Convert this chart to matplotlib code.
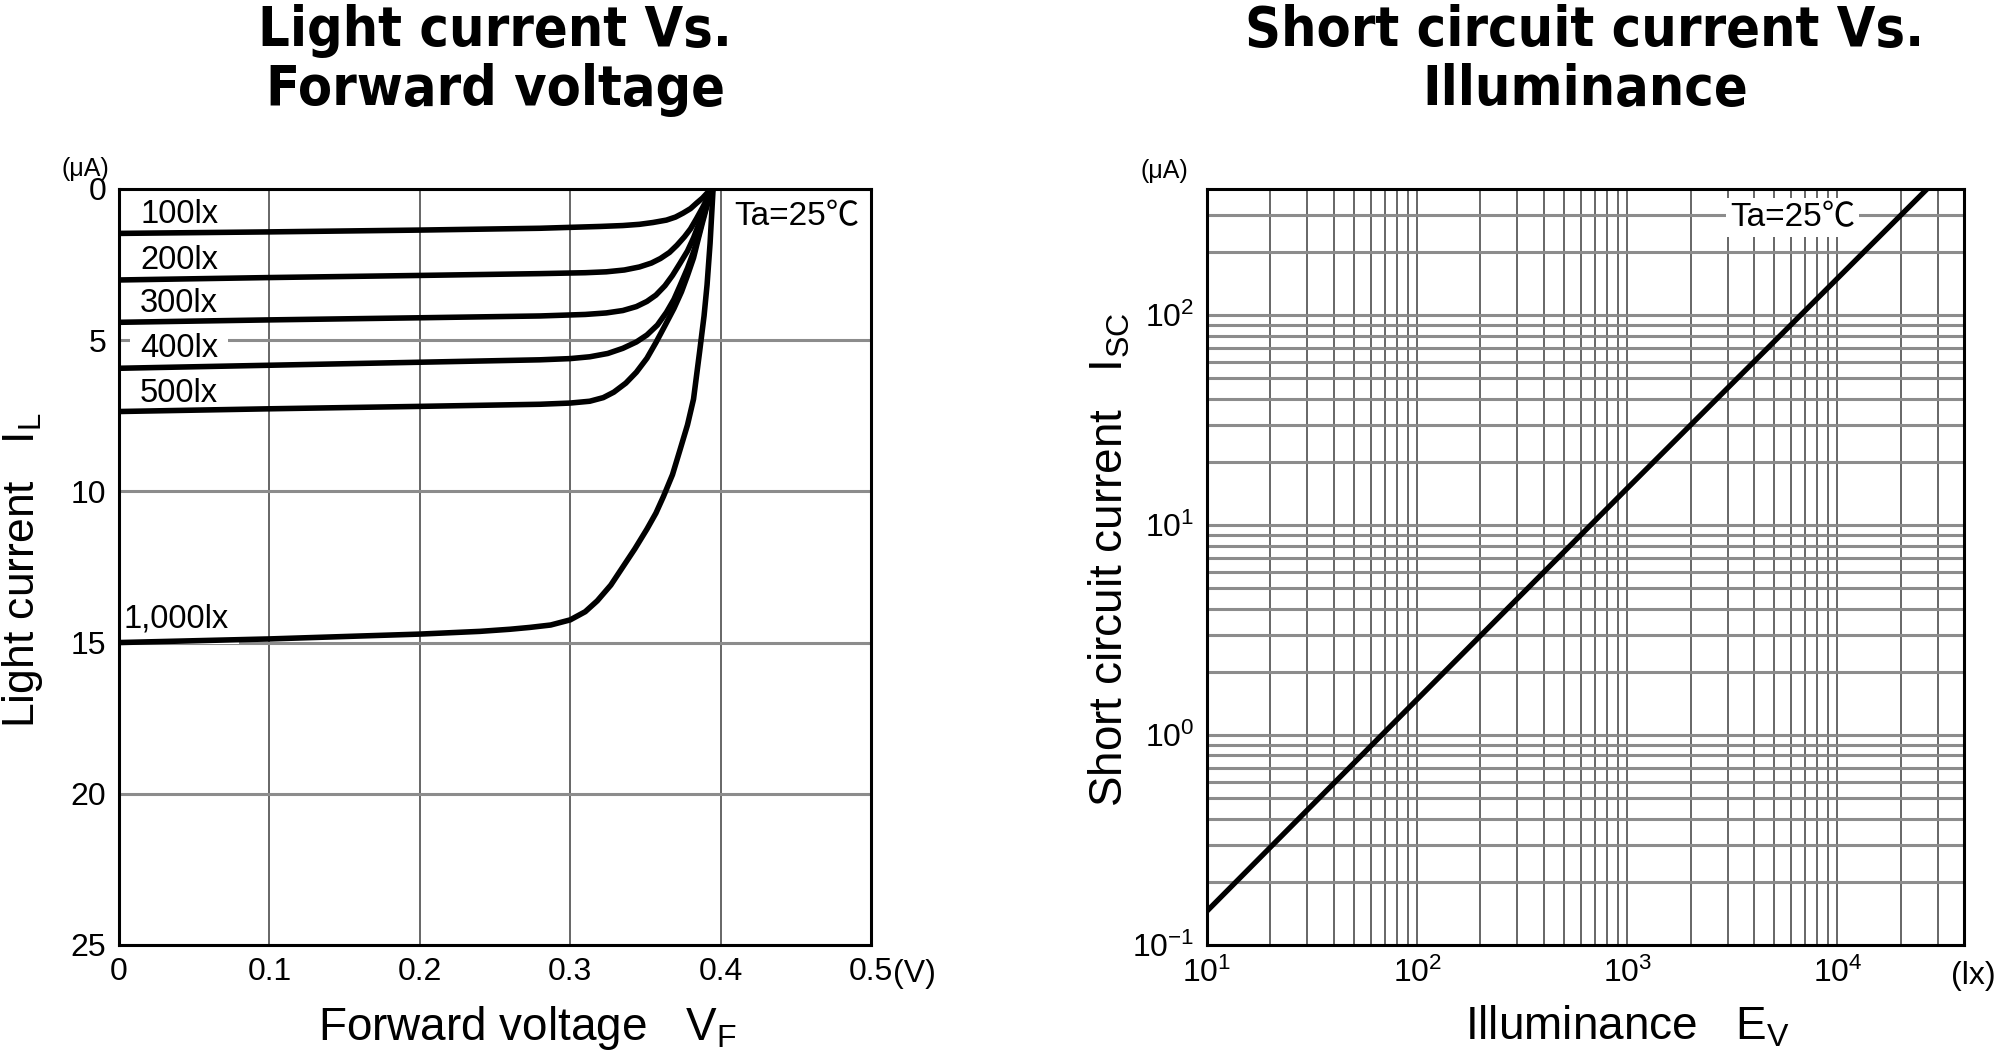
import matplotlib
matplotlib.use("Agg")
import matplotlib.pyplot as plt
from matplotlib.ticker import FixedLocator, NullFormatter, LogFormatterMathtext

plt.rcParams['font.family'] = ['Liberation Sans', 'Noto Sans CJK JP', 'DejaVu Sans']
plt.rcParams['mathtext.fontset'] = 'custom'
plt.rcParams['mathtext.rm'] = 'Liberation Sans'
plt.rcParams['mathtext.it'] = 'Liberation Sans'

# ---------------- data: left chart (Light current vs Forward voltage) ----------------
lux_labels = ["100lx", "200lx", "300lx", "400lx", "500lx", "1,000lx"]
label_y = [0.83, 2.38, 3.80, 5.26, 6.75, 14.22]

v_100 = [0, 0.1, 0.2, 0.28, 0.30, 0.32, 0.335, 0.346, 0.355, 0.364, 0.370, 0.375, 0.380, 0.384, 0.388, 0.391, 0.394]
i_100 = [1.47, 1.42, 1.36, 1.30, 1.27, 1.24, 1.21, 1.17, 1.11, 1.03, 0.93, 0.80, 0.65, 0.47, 0.30, 0.14, 0.0]

v_200 = [0, 0.1, 0.2, 0.28, 0.31, 0.324, 0.336, 0.346, 0.354, 0.360, 0.366, 0.371, 0.376, 0.380, 0.384, 0.388, 0.391, 0.395]
i_200 = [3.01, 2.93, 2.86, 2.80, 2.77, 2.74, 2.68, 2.58, 2.45, 2.30, 2.10, 1.86, 1.58, 1.32, 0.98, 0.62, 0.33, 0.0]

v_300 = [0, 0.1, 0.2, 0.28, 0.31, 0.324, 0.335, 0.344, 0.351, 0.357, 0.363, 0.368, 0.373, 0.378, 0.382, 0.386, 0.389, 0.392, 0.395]
i_300 = [4.41, 4.33, 4.26, 4.20, 4.15, 4.10, 4.02, 3.89, 3.72, 3.51, 3.20, 2.86, 2.46, 2.05, 1.62, 1.10, 0.70, 0.30, 0.0]

v_400 = [0, 0.1, 0.2, 0.28, 0.30, 0.313, 0.325, 0.335, 0.344, 0.351, 0.358, 0.364, 0.369, 0.373, 0.378, 0.382, 0.385, 0.388, 0.391, 0.395]
i_400 = [5.93, 5.83, 5.73, 5.65, 5.61, 5.55, 5.44, 5.27, 5.06, 4.83, 4.50, 4.08, 3.65, 3.20, 2.62, 2.08, 1.60, 1.02, 0.50, 0.0]

v_500 = [0, 0.1, 0.2, 0.28, 0.30, 0.313, 0.322, 0.329, 0.337, 0.344, 0.351, 0.357, 0.363, 0.369, 0.374, 0.378, 0.382, 0.385, 0.388, 0.391, 0.395]
i_500 = [7.36, 7.27, 7.19, 7.12, 7.08, 7.02, 6.90, 6.72, 6.42, 6.06, 5.60, 5.08, 4.52, 3.95, 3.40, 2.86, 2.28, 1.68, 1.10, 0.55, 0.0]

v_1000 = [0, 0.1, 0.2, 0.24, 0.26, 0.273, 0.287, 0.300, 0.310, 0.318, 0.327, 0.335, 0.343, 0.351, 0.357,
          0.362, 0.368, 0.373, 0.378, 0.382, 0.386, 0.389, 0.391, 0.393, 0.395]
i_1000 = [15.0, 14.88, 14.72, 14.63, 14.56, 14.50, 14.42, 14.25, 13.98, 13.62, 13.10, 12.50, 11.90, 11.25, 10.72,
          10.17, 9.45, 8.63, 7.80, 6.95, 5.40, 4.20, 3.17, 1.80, 0.0]

vf_ticks = [0, 0.1, 0.2, 0.3, 0.4, 0.5]
vf_ticklabels = ["0", "0.1", "0.2", "0.3", "0.4", "0.5"]
il_ticks = [0, 5, 10, 15, 20, 25]

# ---------------- data: right chart (Short circuit current vs Illuminance) ----------------
ev = [10, 100, 1000, 10000, 26700]
isc = [0.145, 1.48, 15.0, 150.0, 400.0]

# ---------------- figure ----------------
fig = plt.figure(figsize=(20, 10.55), dpi=100)
ax1 = fig.add_axes([0.0595, 0.1043, 0.376, 0.7166])
ax2 = fig.add_axes([0.6035, 0.1043, 0.3785, 0.7166])

curve_kw = dict(color='black', lw=4.0, solid_capstyle='butt', solid_joinstyle='round', zorder=2)
vgrid_kw = dict(color='#666666', lw=1.4)
hgrid_kw = dict(color='#8c8c8c', lw=2.2)

# ----- left -----
for v, i in [(v_100, i_100), (v_200, i_200), (v_300, i_300),
             (v_400, i_400), (v_500, i_500), (v_1000, i_1000)]:
    ax1.plot(v, i, **curve_kw)

ax1.set_xlim(0, 0.5)
ax1.set_ylim(25, 0)
ax1.set_axisbelow(True)
ax1.xaxis.set_major_locator(FixedLocator(vf_ticks))
ax1.set_xticklabels(vf_ticklabels)
ax1.yaxis.set_major_locator(FixedLocator(il_ticks))
ax1.xaxis.grid(True, **vgrid_kw)
ax1.yaxis.grid(True, **hgrid_kw)
ax1.tick_params(length=0, labelsize=23, pad=9)

for txt, y in zip(lux_labels, label_y):
    x = 0.0033 if txt.startswith("1,") else 0.014
    ax1.text(x, y, txt, fontsize=23.5, ha='left', va='center', zorder=1.5,
             bbox=dict(boxstyle='square,pad=0.3', fc='white', ec='none'))

ax1.text(0.902, 0.963, "Ta=25℃", transform=ax1.transAxes, fontsize=24,
         ha='center', va='center', zorder=3,
         bbox=dict(boxstyle='square,pad=0.12', fc='white', ec='none'))

ax1.set_xlabel("Forward voltage   V$_{\\mathregular{F}}$", fontsize=33)
ax1.xaxis.set_label_coords(0.543, -0.078)
ax1.set_ylabel("Light current   I$_{\\mathregular{L}}$", fontsize=32)
ax1.yaxis.set_label_coords(-0.098, 0.495)

fig.text(914 / 2000, 1 - 974 / 1055, "(V)", fontsize=23, ha='center', va='center')
fig.text(85 / 2000, 1 - 169 / 1055, "(μA)", fontsize=18, ha='center', va='center')

# ----- right -----
ax2.plot(ev, isc, color='black', lw=3.8, zorder=2)
ax2.set_xscale('log')
ax2.set_yscale('log')
ax2.set_xlim(10, 40000)
ax2.set_ylim(0.1, 400)
ax2.set_axisbelow(True)
ax2.xaxis.set_major_locator(FixedLocator([10, 100, 1000, 10000]))
ax2.xaxis.set_major_formatter(LogFormatterMathtext())
ax2.yaxis.set_major_locator(FixedLocator([0.1, 1, 10, 100]))
ax2.yaxis.set_major_formatter(LogFormatterMathtext())
xminor = [m * 10 ** d for d in range(1, 5) for m in range(2, 10) if m * 10 ** d < 40000]
yminor = [m * 10 ** d for d in range(-1, 3) for m in range(2, 10) if m * 10 ** d < 400]
ax2.xaxis.set_minor_locator(FixedLocator(xminor))
ax2.yaxis.set_minor_locator(FixedLocator(yminor))
ax2.xaxis.set_minor_formatter(NullFormatter())
ax2.yaxis.set_minor_formatter(NullFormatter())
ax2.xaxis.grid(True, which='both', **vgrid_kw)
ax2.yaxis.grid(True, which='both', **hgrid_kw)
ax2.tick_params(which='both', length=0, labelsize=23, pad=9)

ax2.text(0.774, 0.962, "Ta=25℃", transform=ax2.transAxes, fontsize=24,
         ha='center', va='center', zorder=3,
         bbox=dict(boxstyle='square,pad=0.12', fc='white', ec='none'))

ax2.set_xlabel("Illuminance   E$_{\\mathregular{V}}$", fontsize=33)
ax2.xaxis.set_label_coords(0.555, -0.078)
ax2.set_ylabel("Short circuit current   I$_{\\mathregular{SC}}$", fontsize=33)
ax2.yaxis.set_label_coords(-0.098, 0.509)

fig.text(1973 / 2000, 1 - 976 / 1055, "(lx)", fontsize=23, ha='center', va='center')
fig.text(1164 / 2000, 1 - 171 / 1055, "(μA)", fontsize=18, ha='center', va='center')

for ax in (ax1, ax2):
    for s in ax.spines.values():
        s.set_linewidth(2.2)
        s.set_zorder(4)

# ----- titles -----
title_kw = dict(fontsize=40, fontweight='bold', fontstretch='condensed',
                family='DejaVu Sans', ha='center', va='top', linespacing=1.12)
fig.text(495 / 2000, 1 - 4 / 1055, "Light current Vs.\nForward voltage", **title_kw)
fig.text(1585 / 2000, 1 - 4 / 1055, "Short circuit current Vs.\nIlluminance", **title_kw)

fig.savefig("out.png", dpi=100, facecolor='white')
